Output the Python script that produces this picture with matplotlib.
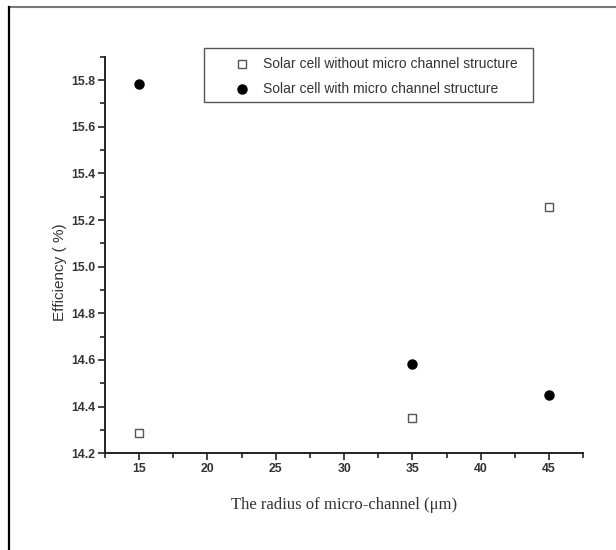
import matplotlib
matplotlib.use("Agg")
import matplotlib.pyplot as plt
from matplotlib.ticker import MultipleLocator
from matplotlib.lines import Line2D
from matplotlib.patches import Rectangle

# radius of micro channel (um)
radius = [15, 35, 45]
eff_without = [14.288, 14.353, 15.255]
eff_with = [15.783, 14.583, 14.45]

label_without = "Solar cell without micro channel structure"
label_with = "Solar cell with micro channel structure"

plt.rcParams['font.family'] = ['Liberation Sans', 'DejaVu Sans']

W, H = 616, 550
def fx(px):
    return px / W
def fy(py):
    return 1 - py / H

fig = plt.figure(figsize=(6.16, 5.5), dpi=100)
ax = fig.add_axes([fx(105), fy(453.3), fx(583.3) - fx(105), fy(56.7) - fy(453.3)])

sq_style = dict(linestyle='none', marker='s', markersize=5.5, markerfacecolor='white',
                markeredgecolor='#555555', markeredgewidth=1.0)
dot_style = dict(linestyle='none', marker='o', markersize=6.5,
                 markerfacecolor='black', markeredgecolor='black')

ax.plot(radius, eff_without, **sq_style)
ax.plot(radius, eff_with, **dot_style)

ax.set_xlim(12.5, 47.5)
ax.set_ylim(14.2, 15.9)
ax.set_xticks([15, 20, 25, 30, 35, 40, 45])
ax.xaxis.set_minor_locator(MultipleLocator(2.5))
ax.yaxis.set_major_locator(MultipleLocator(0.2))
ax.yaxis.set_minor_locator(MultipleLocator(0.1))

for s in ['top', 'right']:
    ax.spines[s].set_visible(False)
for s in ['left', 'bottom']:
    ax.spines[s].set_linewidth(1.4)
    ax.spines[s].set_color('#222222')

ax.tick_params(which='major', direction='out', length=5, width=1.2,
               labelsize=8.8, colors='#222222', pad=2)
ax.tick_params(which='minor', direction='out', length=3.5, width=1.2,
               colors='#222222')
for lab in ax.get_xticklabels() + ax.get_yticklabels():
    lab.set_fontweight('bold')
    lab.set_color('#333333')

ax.set_xlabel("The radius of micro-channel (\u03bcm)", family='Liberation Serif',
              fontsize=12, color='#333333')
ax.xaxis.set_label_coords(0.5, -0.11)
ax.set_ylabel("Efficiency ( %)", fontsize=11, color='#333333')
ax.yaxis.set_label_coords(-0.079, 0.456)

# legend box drawn by hand to match its spacing
fig.add_artist(Rectangle((fx(204), fy(102)), fx(533) - fx(204), fy(48) - fy(102),
                         facecolor='white', edgecolor='#555555', linewidth=1.0))
leg_rows = [(64, sq_style, label_without), (89, dot_style, label_with)]
for py, style, text in leg_rows:
    fig.add_artist(Line2D([fx(242)], [fy(py)], **style))
    fig.text(fx(263), fy(py), text, fontsize=10, color='#333333', va='center')

# partial frame around the picture (top and left only)
fig.add_artist(Line2D([fx(8.5), 1], [fy(6.5), fy(6.5)], color='#777777', linewidth=1.5))
fig.add_artist(Line2D([fx(8.5), fx(8.5)], [0, fy(6.5)], color='black', linewidth=1.6))

fig.savefig("out.png", dpi=100)
